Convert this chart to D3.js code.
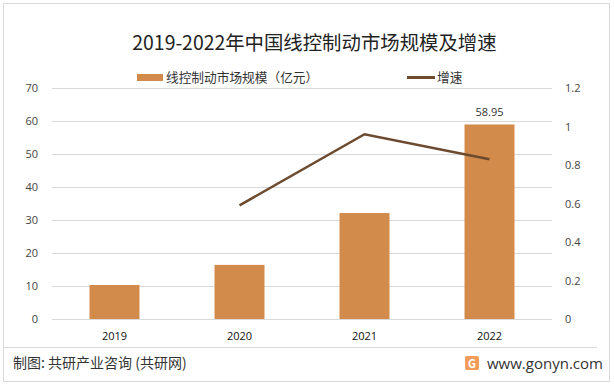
<!DOCTYPE html>
<html><head><meta charset="utf-8">
<script src="https://cdn.jsdelivr.net/npm/d3@7/dist/d3.min.js"></script>
<style>body{margin:0;background:#fff;}svg{display:block;font-family:"Noto Sans CJK SC","Microsoft YaHei",sans-serif;}</style>
</head><body>
<svg id="c" width="614" height="386"></svg>
<script>
const years = ["2019","2020","2021","2022"];
const marketSize = [10.3, 16.4, 32.1, 58.95];
const growth = [null, 0.59, 0.96, 0.83];
const leftTicks = [0,10,20,30,40,50,60,70];
const rightTicks = [0,0.2,0.4,0.6,0.8,1,1.2];
const labels = [null, null, null, "58.95"];

const svg = d3.select("#c");
const L = 52, R = 552, T = 88, B = 319;
const x = d3.scaleBand().domain(years).range([L, R]).paddingInner(0.6).paddingOuter(0.3);
const yL = d3.scaleLinear().domain([0,70]).range([B, T]);
const yR = d3.scaleLinear().domain([0,1.2]).range([B, T]);

svg.append("rect").attr("x",3.5).attr("y",3.5).attr("width",606).attr("height",378)
  .attr("fill","#fff").attr("stroke","#d9d9d9");

svg.append("text").attr("x",314.5).attr("y",50).attr("text-anchor","middle")
  .attr("font-size",19.4).attr("fill","#222").text("2019-2022年中国线控制动市场规模及增速");

// legend
svg.append("rect").attr("x",137).attr("y",74).attr("width",26).attr("height",7).attr("fill","#D38B4C");
svg.append("text").attr("x",166).attr("y",82).attr("font-size",12.7).attr("fill","#333").text("线控制动市场规模（亿元）");
svg.append("line").attr("x1",407).attr("x2",435).attr("y1",77.5).attr("y2",77.5).attr("stroke","#6B4A2F").attr("stroke-width",3);
svg.append("text").attr("x",437).attr("y",82).attr("font-size",12.7).attr("fill","#333").text("增速");

// grid
svg.append("g").selectAll("line").data(leftTicks).join("line")
  .attr("x1",L).attr("x2",R).attr("y1",d=>Math.round(yL(d))+0.5).attr("y2",d=>Math.round(yL(d))+0.5)
  .attr("stroke","#d9d9d9");

const axL = svg.append("g").attr("transform",`translate(${L},0)`)
  .call(d3.axisLeft(yL).tickValues(leftTicks).tickSize(0).tickPadding(14));
const axR = svg.append("g").attr("transform",`translate(${R},0)`)
  .call(d3.axisRight(yR).tickValues(rightTicks).tickSize(0).tickPadding(13).tickFormat(d=>String(d)));
const axX = svg.append("g").attr("transform",`translate(0,${B})`)
  .call(d3.axisBottom(x).tickSize(0).tickPadding(13));
[axL,axR,axX].forEach(a=>{a.select(".domain").remove();
  a.selectAll("text").attr("font-size",11).attr("fill","#444").attr("font-family","'Open Sans','DejaVu Sans',sans-serif");});
axX.selectAll("text").attr("fill","#111");

svg.append("g").selectAll("rect").data(marketSize).join("rect")
  .attr("x",(d,i)=>x(years[i])).attr("width",x.bandwidth())
  .attr("y",d=>yL(d)).attr("height",d=>B-yL(d)).attr("fill","#D38B4C");

svg.append("g").selectAll("text").data(labels).join("text")
  .filter(d=>d!==null)
  .attr("x",(d,i)=>x(years[3])+x.bandwidth()/2).attr("y",yL(marketSize[3])-8)
  .attr("text-anchor","middle").attr("font-size",11).attr("fill","#333")
  .attr("font-family","'Open Sans','DejaVu Sans',sans-serif").text(d=>d);

const line = d3.line().defined(d=>d!==null)
  .x((d,i)=>x(years[i])+x.bandwidth()/2).y(d=>yR(d));
svg.append("path").datum(growth).attr("d",line).attr("fill","none")
  .attr("stroke","#6B4A2F").attr("stroke-width",2.5);

// footer
svg.append("line").attr("x1",4).attr("x2",597).attr("y1",347.5).attr("y2",347.5).attr("stroke","#d9d9d9");
svg.append("text").attr("x",13).attr("y",368).attr("font-size",14).attr("fill","#333")
  .text("制图: 共研产业咨询 (共研网)");
svg.append("rect").attr("x",465).attr("y",356).attr("width",14).attr("height",14).attr("rx",2).attr("fill","#F29B5A");
svg.append("text").attr("x",472).attr("y",367.5).attr("text-anchor","middle").attr("font-size",11).attr("font-weight","bold").attr("fill","#fff").text("G");
svg.append("text").attr("x",487).attr("y",369).attr("font-size",15).attr("fill","#333")
  .attr("font-family","'Open Sans','DejaVu Sans',sans-serif").text("www.gonyn.com");
</script>
</body></html>
